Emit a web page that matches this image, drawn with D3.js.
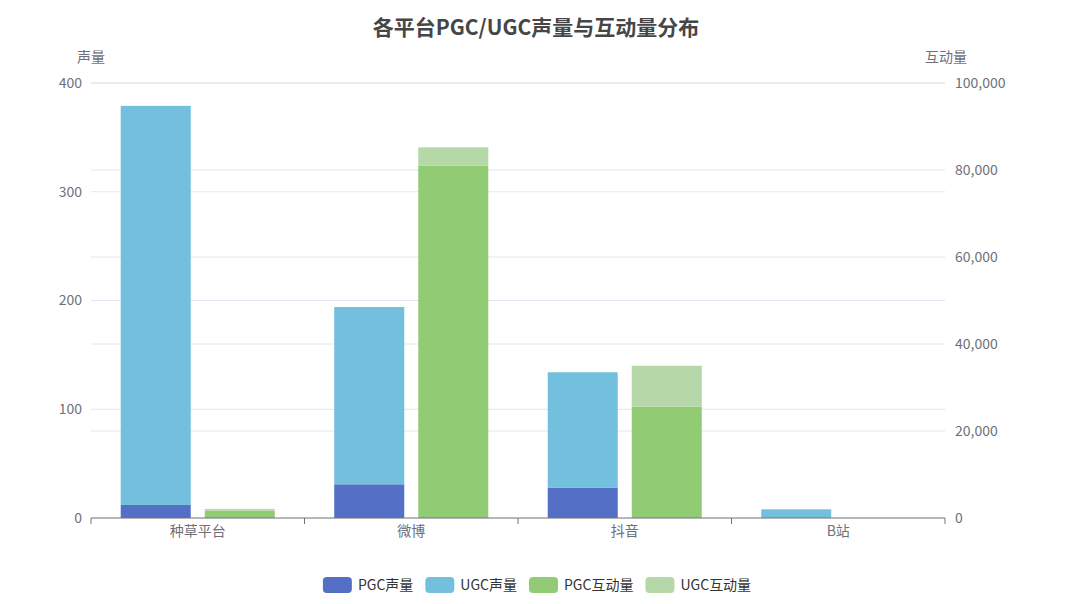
<!DOCTYPE html>
<html><head><meta charset="utf-8">
<script src="https://cdn.jsdelivr.net/npm/d3@7/dist/d3.min.js"></script>
<style>
html,body{margin:0;padding:0;background:#fff;}
svg{display:block;font-family:"Noto Sans CJK SC","Noto Sans",sans-serif;}
</style></head>
<body>
<svg id="chart" width="1069" height="604"></svg>
<script>
const categories = ["种草平台", "微博", "抖音", "B站"];
const pgcVolume = [12, 31, 28, 0];
const ugcVolume = [367, 163, 106, 8];
const pgcInteraction = [1700, 81000, 25600, 0];
const ugcInteraction = [400, 4200, 9400, 0];
const leftTicks = [0, 100, 200, 300, 400];
const rightTicks = [0, 20000, 40000, 60000, 80000, 100000];
const seriesNames = ["PGC声量", "UGC声量", "PGC互动量", "UGC互动量"];
const colors = ["#5470c6", "#73c0de", "#91cc75", "#b6d7a8"];

(function () {
const svg = d3.select("#chart");
const gLeft = 91, gRight = 945, gTop = 83, gBottom = 518;

const x = d3.scaleBand().domain(categories).range([gLeft, gRight]).padding(0);
const yL = d3.scaleLinear().domain([0, 400]).range([gBottom, gTop]);
const yR = d3.scaleLinear().domain([0, 100000]).range([gBottom, gTop]);

// gridlines
const grid = svg.append("g");
grid.selectAll("line.l").data(leftTicks.slice(1)).join("line").attr("class", "l")
  .attr("x1", gLeft).attr("x2", gRight)
  .attr("y1", d => yL(d)).attr("y2", d => yL(d))
  .attr("stroke", "#e0e6f1").attr("stroke-width", 1);
grid.selectAll("line.r").data(rightTicks.slice(1)).join("line").attr("class", "r")
  .attr("x1", gLeft).attr("x2", gRight)
  .attr("y1", d => yR(d)).attr("y2", d => yR(d))
  .attr("stroke", "#e0e6f1").attr("stroke-width", 1);

// data table
const rows = categories.map((c, i) => ({cat: c, pv: pgcVolume[i], uv: ugcVolume[i], pi: pgcInteraction[i], ui: ugcInteraction[i]}));
const volStack = d3.stack().keys(["pv", "uv"])(rows);
const intStack = d3.stack().keys(["pi", "ui"])(rows);

const bw = x.bandwidth();
const barW = bw * 0.328, gap = bw * 0.0656;
const offset = (bw - 2 * barW - gap) / 2;

const bars = svg.append("g");
volStack.forEach((layer, k) => {
  bars.append("g").attr("fill", colors[k]).selectAll("rect").data(layer).join("rect")
    .attr("x", d => x(d.data.cat) + offset)
    .attr("width", barW)
    .attr("y", d => yL(d[1]))
    .attr("height", d => Math.max(0, yL(d[0]) - yL(d[1])));
});
intStack.forEach((layer, k) => {
  bars.append("g").attr("fill", colors[k + 2]).selectAll("rect").data(layer).join("rect")
    .attr("x", d => x(d.data.cat) + offset + barW + gap)
    .attr("width", barW)
    .attr("y", d => yR(d[1]))
    .attr("height", d => Math.max(0, yR(d[0]) - yR(d[1])));
});

// bottom axis
const gx = svg.append("g").attr("transform", `translate(0,${gBottom})`);
gx.append("line").attr("x1", gLeft).attr("x2", gRight).attr("y1", 0).attr("y2", 0).attr("stroke", "#6e7079");
gx.selectAll("line.tk").data(d3.range(categories.length + 1)).join("line").attr("class", "tk")
  .attr("x1", i => gLeft + i * bw).attr("x2", i => gLeft + i * bw)
  .attr("y1", 0).attr("y2", 6).attr("stroke", "#6e7079");
gx.selectAll("text").data(categories).join("text")
  .attr("x", d => x(d) + bw / 2).attr("y", 13).attr("dy", "0.35em")
  .attr("text-anchor", "middle").attr("fill", "#6e7079").attr("font-size", 14)
  .text(d => d);

// left axis labels
svg.append("g").selectAll("text").data(leftTicks).join("text")
  .attr("x", 82).attr("y", d => yL(d)).attr("dy", "0.35em")
  .attr("text-anchor", "end").attr("fill", "#6e7079").attr("font-size", 14)
  .text(d => d3.format(",")(d));
// right axis labels
svg.append("g").selectAll("text").data(rightTicks).join("text")
  .attr("x", 955).attr("y", d => yR(d)).attr("dy", "0.35em")
  .attr("text-anchor", "start").attr("fill", "#6e7079").attr("font-size", 14)
  .text(d => d3.format(",")(d));

// axis names
svg.append("text").attr("x", 91).attr("y", 57).attr("dy", "0.35em").attr("text-anchor", "middle")
  .attr("fill", "#6e7079").attr("font-size", 14).text("声量");
svg.append("text").attr("x", 946).attr("y", 57).attr("dy", "0.35em").attr("text-anchor", "middle")
  .attr("fill", "#6e7079").attr("font-size", 14).text("互动量");

// title
svg.append("text").attr("x", 536).attr("y", 28).attr("dy", "0.35em").attr("text-anchor", "middle")
  .attr("fill", "#464646").attr("font-size", 21).attr("font-weight", "bold")
  .text("各平台PGC/UGC声量与互动量分布");

// legend
const lg = svg.append("g");
const iconW = 29, iconH = 16, textGap = 6, itemGap = 12;
const items = seriesNames.map((n, i) => {
  const g = lg.append("g");
  g.append("rect").attr("width", iconW).attr("height", iconH).attr("rx", 4).attr("fill", colors[i]);
  const t = g.append("text").attr("x", iconW + textGap).attr("y", iconH / 2).attr("dy", "0.35em")
    .attr("fill", "#333").attr("font-size", 14).text(n);
  return {g, w: iconW + textGap + t.node().getComputedTextLength()};
});
const totalW = d3.sum(items, d => d.w) + itemGap * (items.length - 1);
let cx = 537 - totalW / 2;
items.forEach(it => {
  it.g.attr("transform", `translate(${cx},${577})`);
  cx += it.w + itemGap;
});
})();
</script>
</body></html>
